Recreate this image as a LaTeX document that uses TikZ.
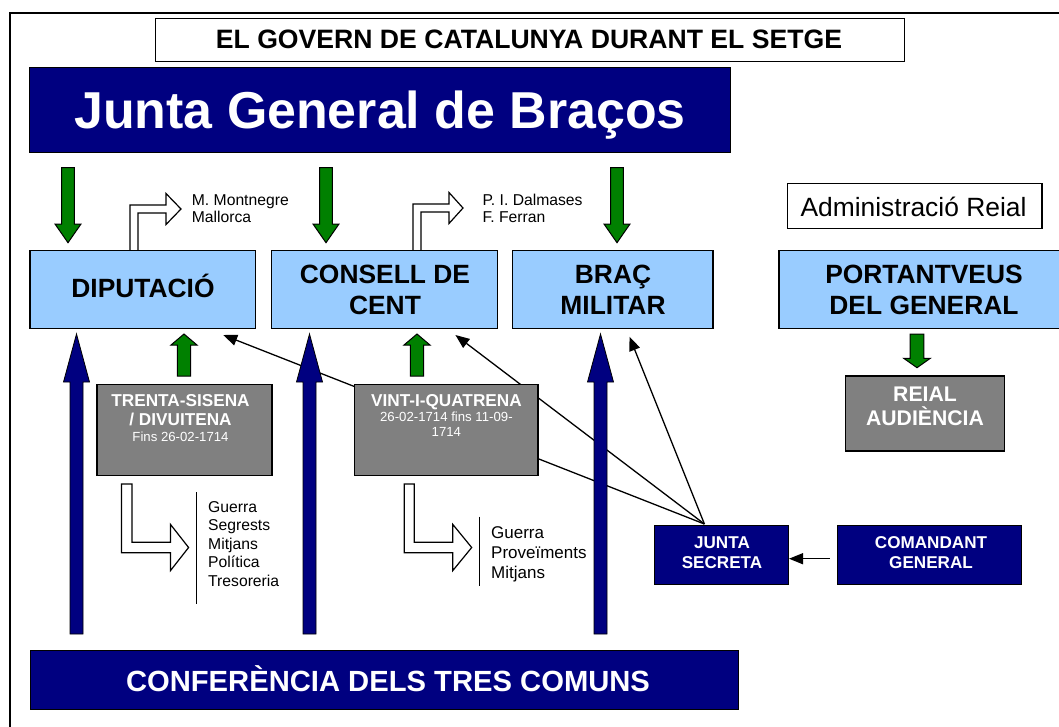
\documentclass[tikz,border=0pt]{standalone}
\usepackage{fontspec}
\setmainfont{Liberation Sans}
\usetikzlibrary{arrows.meta}
\definecolor{lblue}{HTML}{99CCFF}
\definecolor{navy}{HTML}{000080}
\definecolor{dgreen}{HTML}{008000}
\definecolor{midgray}{HTML}{808080}
% vertical block arrow: x, y-tail, y-head-base, y-tip, half shaft, half head, style
\newcommand{\vblock}[7]{\draw[#7] ({#1-#5},#2) -- ({#1-#5},#3) -- ({#1-#6},#3) -- (#1,#4) -- ({#1+#6},#3) -- ({#1+#5},#3) -- ({#1+#5},#2) -- cycle;}
\begin{document}
\begin{tikzpicture}[x=1pt,y=-1pt,
  box/.style={draw=black, line width=1.5pt, inner sep=0pt, outer sep=0pt},
  bluebox/.style={box, fill=lblue},
  graybox/.style={box, fill=midgray},
  whitebox/.style={box, fill=white},
  navybox/.style={draw=black, line width=1pt, fill=navy, inner sep=0pt, outer sep=0pt},
  txt/.style={inner sep=0pt, anchor=base},
  ltxt/.style={inner sep=0pt, anchor=base west},
  boxlabel/.style={txt, font=\bfseries\fontsize{26.4}{30}\selectfont},
  graylabel/.style={txt, text=white, font=\bfseries\fontsize{17.2}{20}\selectfont},
  graysmall/.style={txt, text=white, font=\fontsize{13.2}{16}\selectfont},
  navylabel/.style={txt, text=white, font=\bfseries\fontsize{17.1}{20}\selectfont},
  smalltxt/.style={ltxt, font=\fontsize{15.7}{18}\selectfont},
  listtxt/.style={ltxt, font=\fontsize{17}{20}\selectfont},
  conn/.style={line width=1.3pt, -{Triangle[length=14pt,width=11pt]}},
  greenarrow/.style={draw=black, line width=1pt, fill=dgreen},
  navyarrow/.style={draw=black, line width=0.8pt, fill=navy},
  whitearrow/.style={draw=black, line width=1.2pt, fill=white, line join=miter},
  divider/.style={line width=1pt}
]
\useasboundingbox (0,0) rectangle (1059,726);
\clip (0,0) rectangle (1059,726);
\fill[white] (0,0) rectangle (1059,726);

% outer frame
\draw[line width=2pt] (10,740) -- (10,13.3) -- (1070,13.3);

% connectors from Junta Secreta (drawn first, passing under boxes and arrows)
\coordinate (apex) at (704.4,524);
\coordinate (dipin) at (223.2,335);
\coordinate (ccin) at (455.4,335);
\coordinate (bmin) at (629.5,336.7);
\coordinate (cgout) at (829.6,558.7);
\coordinate (jsin) at (789,558.7);
\draw[conn] (apex) -- (dipin);
\draw[conn] (apex) -- (ccin);
\draw[conn] (apex) -- (bmin);
\draw[conn] (cgout) -- (jsin);

% white bent arrows (up then right)
\draw[whitearrow] (130,251) -- (130,205) -- (166,205) -- (166,193.5) -- (181,209) -- (166,224.5) -- (166,213) -- (138,213) -- (138,251) -- cycle;
\draw[whitearrow] (413,251) -- (413,204) -- (449,204) -- (449,192.5) -- (463,208) -- (449,223.5) -- (449,212) -- (421,212) -- (421,251) -- cycle;

% boxes
\node[whitebox, minimum width=749, minimum height=43.4] (title) at (530,40) {};
\node[navybox, minimum width=700.3, minimum height=84.6] (jgb) at (379.85,110) {};
\node[whitebox, minimum width=254.6, minimum height=45] (admin) at (914.7,205.8) {};
\node[bluebox, minimum width=225.7, minimum height=78] (dip) at (142.85,289.7) {};
\node[bluebox, minimum width=225.6, minimum height=78] (cc) at (384.5,289.7) {};
\node[bluebox, minimum width=200.5, minimum height=78] (bm) at (612.75,289.7) {};
\node[bluebox, minimum width=290, minimum height=78] (pg) at (924,289.7) {};
\node[graybox, minimum width=175.2, minimum height=91.4] (ts) at (184.4,430) {};
\node[graybox, minimum width=183.6, minimum height=91.4] (vq) at (446.4,430) {};
\node[graybox, minimum width=158.9, minimum height=75] (ra) at (924.95,413.5) {};
\node[navybox, minimum width=134, minimum height=59] (js) at (721,554.8) {};
\node[navybox, minimum width=184.2, minimum height=59] (cg) at (929.1,554.8) {};
\node[navybox, minimum width=708.5, minimum height=59] (ctc) at (384.25,679.5) {};

% green block arrows (down from Junta General)
\vblock{68}{167.7}{224}{242.7}{6.3}{13}{greenarrow}
\vblock{326}{167.7}{224}{242.7}{6.3}{13}{greenarrow}
\vblock{617}{167.7}{224}{242.7}{6.3}{13}{greenarrow}
% green block arrows (up from gray boxes)
\vblock{184}{376}{345}{334}{6.7}{13}{greenarrow}
\vblock{417}{376}{345}{334}{6.7}{13}{greenarrow}
% green block arrow Portantveus -> Reial Audiencia
\vblock{917}{334}{358.3}{367.7}{6.8}{13.3}{greenarrow}
% navy block arrows (up from Conferencia)
\vblock{76.5}{634}{382}{334}{6.5}{13}{navyarrow}
\vblock{309.5}{634}{382}{334}{6.5}{13}{navyarrow}
\vblock{600.5}{634}{382}{334}{6.5}{13}{navyarrow}

% white bent arrows (down then right)
\draw[whitearrow] (121.4,484) -- (121.4,552.7) -- (170.4,552.7) -- (170.4,570.7) -- (188.6,547.5) -- (170.4,524.3) -- (170.4,542.3) -- (132,542.3) -- (132,484) -- cycle;
\draw[whitearrow] (404.3,484) -- (404.3,552.7) -- (452.7,552.7) -- (452.7,570.7) -- (471.7,547.5) -- (452.7,524.3) -- (452.7,542.3) -- (414.3,542.3) -- (414.3,484) -- cycle;

% dividers beside the lists
\coordinate (d1a) at (196.4,492.3);
\coordinate (d1b) at (196.4,604);
\coordinate (d2a) at (479.3,516.7);
\coordinate (d2b) at (479.3,585.7);
\draw[divider] (d1a) -- (d1b);
\draw[divider] (d2a) -- (d2b);

% texts
\node[txt, font=\bfseries\fontsize{26.6}{30}\selectfont] (titlet) at (529,48.3) {EL GOVERN DE CATALUNYA DURANT EL SETGE};
\node[txt, text=white, font=\bfseries\fontsize{51.9}{60}\selectfont] (jgbt) at (380,128) {Junta General de Braços};
\node[txt, font=\fontsize{26.4}{30}\selectfont] (admint) at (913.5,216) {Administració Reial};
\node[boxlabel] (dipt) at (143,297) {DIPUTACIÓ};
\node[boxlabel] (cct1) at (385,283.3) {CONSELL DE};
\node[boxlabel] (cct2) at (385,314) {CENT};
\node[boxlabel] (bmt1) at (613,283.3) {BRAÇ};
\node[boxlabel] (bmt2) at (613,314) {MILITAR};
\node[boxlabel] (pgt1) at (924,283.3) {PORTANTVEUS};
\node[boxlabel] (pgt2) at (924,314) {DEL GENERAL};

\node[smalltxt] (mm1) at (191.7,205) {M. Montnegre};
\node[smalltxt] (mm2) at (191.7,222.7) {Mallorca};
\node[smalltxt] (pd1) at (482.3,205) {P. I. Dalmases};
\node[smalltxt] (pd2) at (482.3,222.7) {F. Ferran};

\node[graylabel] (tst1) at (180.5,406) {TRENTA-SISENA};
\node[graylabel] (tst2) at (180.5,425.7) {/ DIVUITENA};
\node[graysmall] (tst3) at (180.5,441.7) {Fins 26-02-1714};
\node[graylabel] (vqt1) at (446.4,406) {VINT-I-QUATRENA};
\node[graysmall] (vqt2) at (446.4,421.7) {26-02-1714 fins 11-09-};
\node[graysmall] (vqt3) at (446.4,436) {1714};
\node[txt, text=white, font=\bfseries\fontsize{21.2}{25}\selectfont] (rat1) at (925,401) {REIAL};
\node[txt, text=white, font=\bfseries\fontsize{21.2}{25}\selectfont] (rat2) at (925,425.3) {AUDIÈNCIA};
\node[navylabel] (jst1) at (722,548.3) {JUNTA};
\node[navylabel] (jst2) at (722,568.3) {SECRETA};
\node[navylabel] (cgt1) at (931,548.3) {COMANDANT};
\node[navylabel] (cgt2) at (931,568.3) {GENERAL};

\node[smalltxt] (l1a) at (208,512) {Guerra};
\node[smalltxt] (l1b) at (208,530.5) {Segrests};
\node[smalltxt] (l1c) at (208,549) {Mitjans};
\node[smalltxt] (l1d) at (208,567.5) {Política};
\node[smalltxt] (l1e) at (208,586) {Tresoreria};
\node[listtxt] (l2a) at (491,538.3) {Guerra};
\node[listtxt] (l2b) at (491,558.3) {Proveïments};
\node[listtxt] (l2c) at (491,578.3) {Mitjans};

\node[txt, text=white, font=\bfseries\fontsize{29.2}{34}\selectfont] (ctct) at (388,691.7) {CONFERÈNCIA DELS TRES COMUNS};
\end{tikzpicture}
\end{document}
